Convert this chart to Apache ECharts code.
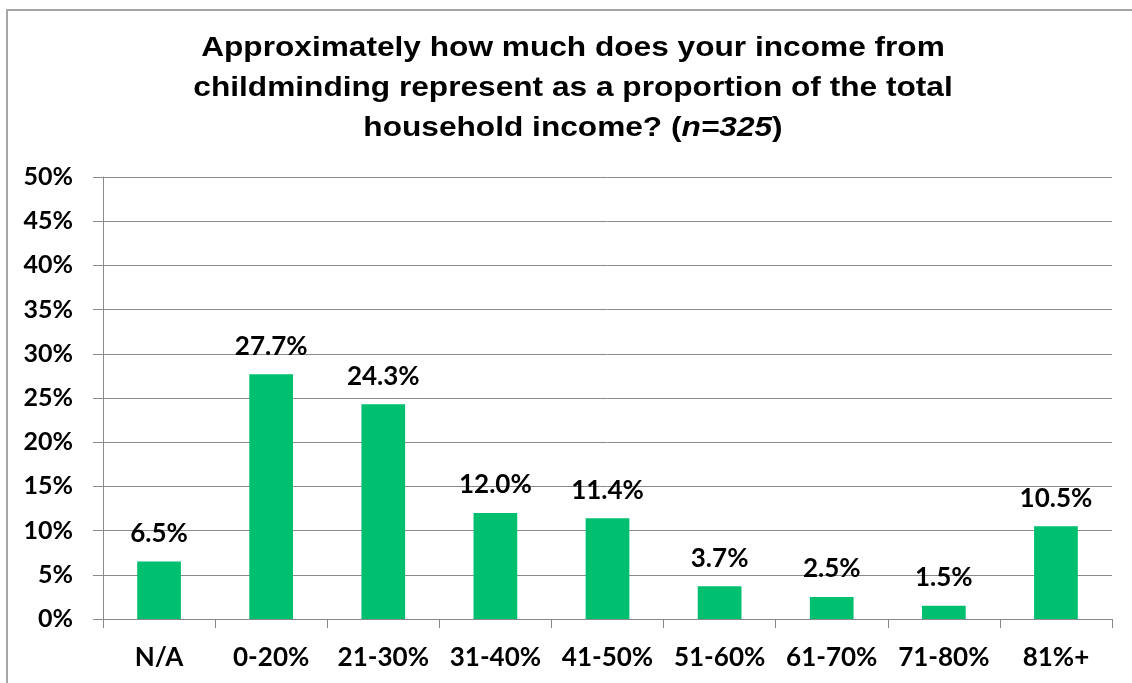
<!DOCTYPE html>
<html>
<head>
<meta charset="utf-8">
<script src="https://cdn.jsdelivr.net/npm/echarts@6/dist/echarts.min.js"></script>
<style>
  html, body { margin: 0; padding: 0; background: #ffffff; }
  #chart { width: 1132px; height: 683px; }
</style>
</head>
<body>
<div id="chart"></div>
<script>
// Share of household income that comes from childminding
const categories = ['N/A', '0-20%', '21-30%', '31-40%', '41-50%', '51-60%', '61-70%', '71-80%', '81%+'];
const shares = [6.5, 27.7, 24.3, 12.0, 11.4, 3.7, 2.5, 1.5, 10.5];
const yTicks = [0, 5, 10, 15, 20, 25, 30, 35, 40, 45, 50];

const labelFont = 'Lato, "Open Sans", sans-serif';
const titleFont = '"Liberation Sans", Arial, sans-serif';
const gridGray = '#8a8a8a';

const chart = echarts.init(document.getElementById('chart'), null, { renderer: 'canvas' });

chart.setOption({
  backgroundColor: '#ffffff',
  animation: false,
  graphic: [
    {
      type: 'rect',
      shape: { x: 7, y: 10, width: 1200, height: 800 },
      style: { fill: 'none', stroke: '#a6a6a6', lineWidth: 2 },
      silent: true
    },
    {
      // chart title, slightly widened
      type: 'text',
      x: 573,
      y: 28,
      scaleX: 1.13,
      silent: true,
      style: {
        text: 'Approximately how much does your income from\nchildminding represent as a proportion of the total\nhousehold income? ({i|n=325})',
        font: 'bold 28px ' + titleFont,
        fill: '#000000',
        align: 'center',
        verticalAlign: 'top',
        lineHeight: 40,
        rich: {
          i: { font: 'italic bold 28px ' + titleFont, fill: '#000000', lineHeight: 40 }
        }
      }
    }
  ],
  grid: { left: 103, right: 20, top: 177, bottom: 64, containLabel: false },
  xAxis: {
    type: 'category',
    data: categories,
    boundaryGap: true,
    axisLine: { show: true, lineStyle: { color: gridGray, width: 1 } },
    axisTick: { show: true, interval: 0, length: 9, alignWithLabel: false, lineStyle: { color: gridGray } },
    axisLabel: {
      interval: 0,
      hideOverlap: false,
      margin: 26,
      color: '#000000',
      fontFamily: labelFont,
      fontWeight: 'bold',
      fontSize: 26
    },
    splitLine: { show: false }
  },
  yAxis: {
    type: 'value',
    min: yTicks[0],
    max: yTicks[yTicks.length - 1],
    interval: 5,
    axisLine: { show: true, lineStyle: { color: gridGray, width: 1 } },
    axisTick: { show: true, length: 10, lineStyle: { color: gridGray } },
    axisLabel: {
      margin: 30,
      color: '#000000',
      fontFamily: labelFont,
      fontWeight: 'bold',
      fontSize: 25,
      formatter: v => v + '%'
    },
    splitLine: { show: true, lineStyle: { color: gridGray, width: 1 } }
  },
  series: [
    {
      type: 'bar',
      data: shares,
      barWidth: '39%',
      itemStyle: { color: '#00bf6f' },
      label: {
        show: true,
        position: 'top',
        distance: 15,
        color: '#000000',
        fontFamily: labelFont,
        fontWeight: 'bold',
        fontSize: 26,
        formatter: p => p.value.toFixed(1) + '%'
      }
    }
  ]
});
</script>
</body>
</html>
